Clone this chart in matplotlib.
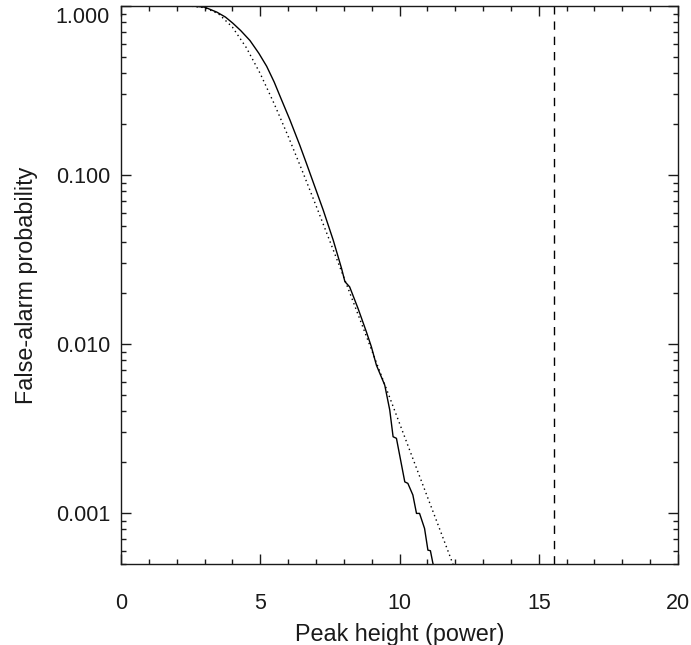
import numpy as np
import matplotlib
matplotlib.use('Agg')
import matplotlib.pyplot as plt
import matplotlib.ticker as mticker
import matplotlib.transforms as mtransforms

plt.rcParams['font.family'] = ['Liberation Sans', 'DejaVu Sans']

peak_meas = [0.0, 1.0, 2.0, 2.6, 3.0, 3.44, 3.75, 4.02, 4.3, 4.63, 4.95, 5.23,
             5.5, 5.72, 6.06, 6.42, 6.66, 7.26, 7.62, 7.92, 8.04, 8.21, 8.51,
             8.81, 8.99, 9.17, 9.47, 9.65, 9.77, 9.89, 10.19, 10.30, 10.48,
             10.61, 10.72, 10.90, 11.02, 11.11, 11.20, 11.30]
fap_meas = [1.0, 1.0, 1.0, 0.998, 0.985, 0.92, 0.86, 0.79, 0.715, 0.625, 0.525,
            0.44, 0.355, 0.29, 0.213, 0.15, 0.117, 0.0621, 0.0412, 0.0280,
            0.0234, 0.0218, 0.01626, 0.01182, 0.00964, 0.00751, 0.00572,
            0.00407, 0.00283, 0.00277, 0.00153, 0.00150, 0.00128, 0.000996,
            0.000996, 0.000811, 0.000604, 0.000599, 0.000504, 0.00045]

# expected curve (dotted)
peak_expt = [0.0, 1.0, 2.0, 2.5, 3.0, 3.5, 4.0, 4.5, 5.0, 5.5, 6.0, 6.5, 7.0, 7.5,
             8.0, 8.5, 9.0, 9.5, 10.0, 10.5, 11.0, 11.5, 12.0]
fap_expt = [1.0, 1.0, 1.0, 0.998, 0.978, 0.900, 0.750, 0.567, 0.398, 0.264, 0.170,
            0.1067, 0.0661, 0.0406, 0.02485, 0.01514, 0.00921, 0.0056, 0.0034,
            0.00206, 0.00125, 0.00076, 0.00046]

# detected peak height (dashed)
peak_obs = 15.54

ytick_vals = [0.001, 0.01, 0.1, 1.0]
ytick_labels = ['0.001', '0.010', '0.100', '1.000']
xtick_vals = [0, 5, 10, 15, 20]

fig = plt.figure(figsize=(6.91, 6.45), dpi=100)
ax = fig.add_axes([121/691, 81/645, 557/691, 558/645])

ink = '#1a1a1a'
ax.plot(peak_meas, fap_meas, color='black', lw=1.0)
ax.plot(peak_expt, fap_expt, color='black', lw=1.0, linestyle=(0, (1, 2.4)))
ax.axvline(peak_obs, color='black', lw=1.0, dashes=(6, 5))

ax.set_yscale('log')
ax.set_xlim(0, 20)
ax.set_ylim(0.0005, 1.0)

ax.set_xticks(xtick_vals)
ax.set_xticklabels([str(v) for v in xtick_vals])
ax.xaxis.set_minor_locator(mticker.MultipleLocator(1))
ax.set_yticks(ytick_vals)
ax.set_yticklabels(ytick_labels)
ax.yaxis.set_minor_locator(mticker.LogLocator(base=10, subs=np.arange(2, 10)))
ax.yaxis.set_minor_formatter(mticker.NullFormatter())

ax.tick_params(which='both', direction='in', top=True, right=True, color=ink,
               labelcolor=ink, labelsize=15.5)
ax.tick_params(which='major', length=7.5, width=1.0)
ax.tick_params(which='minor', length=3.6, width=1.0)
ax.tick_params(axis='x', which='major', pad=21)
ax.tick_params(axis='y', which='major', pad=8)

for sp in ax.spines.values():
    sp.set_color(ink)
    sp.set_linewidth(1.0)

# top label pushed down so it stays inside the frame
for lab in ax.get_yticklabels():
    if lab.get_text() == '1.000':
        lab.set_transform(lab.get_transform() +
                          mtransforms.ScaledTranslation(0, -0.09, fig.dpi_scale_trans))

ax.set_xlabel('Peak height (power)', fontsize=16.8, color=ink, labelpad=6)
ax.set_ylabel('False-alarm probability', fontsize=16.8, color=ink, labelpad=13)

fig.savefig('out.png', dpi=100)
